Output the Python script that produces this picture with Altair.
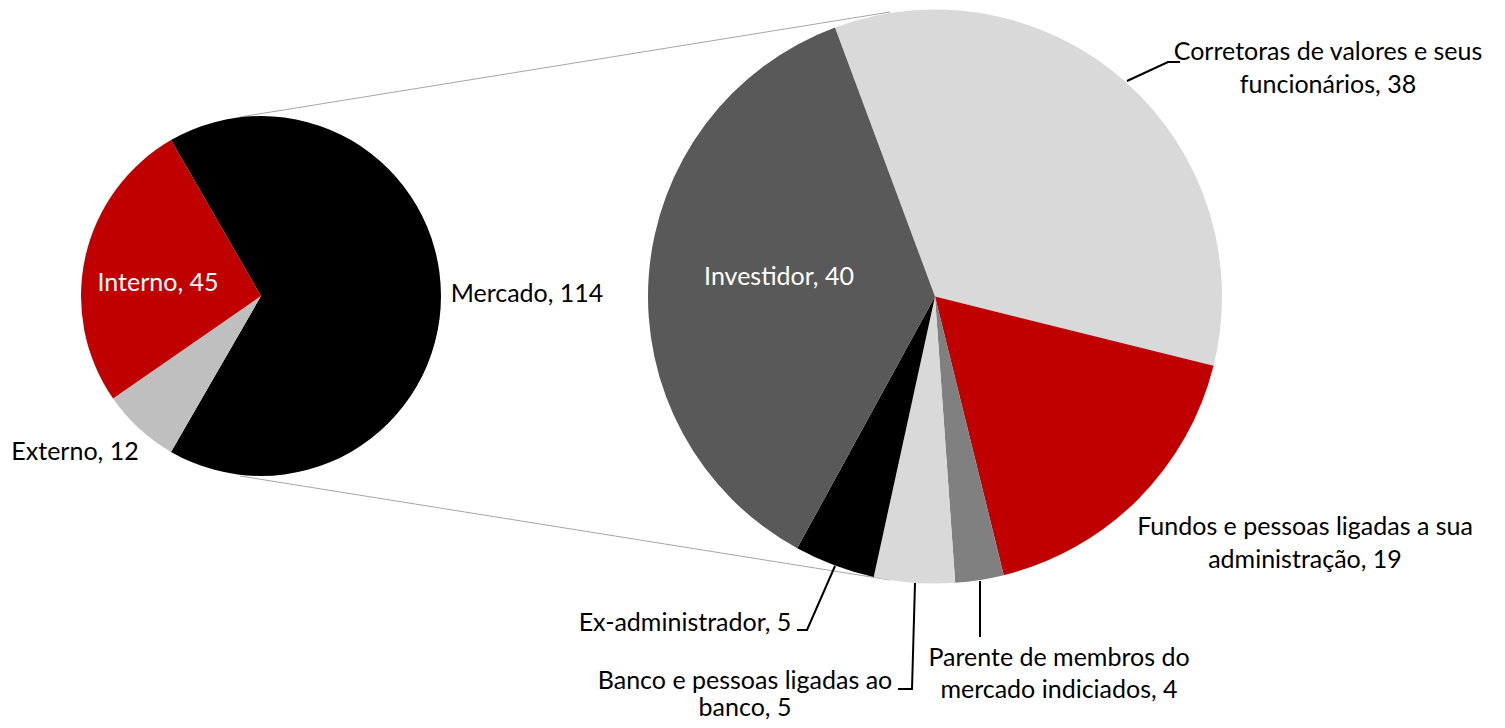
import math
import altair as alt
import pandas as pd

# ---- data ----
left_cats = ["Mercado", "Externo", "Interno"]
left_vals = [114, 12, 45]
left_colors = ["#000000", "#bfbfbf", "#c00000"]
left_names = ["Mercado", "Externo", "Interno"]

right_cats = [
    "Corretoras de valores e seus funcionários",
    "Fundos e pessoas ligadas a sua administração",
    "Parente de membros do mercado indiciados",
    "Banco e pessoas ligadas ao banco",
    "Ex-administrador",
    "Investidor",
]
# values as printed in the labels
right_vals = [38, 19, 4, 5, 5, 40]
# slice sizes as drawn in the reference (the "Parente" slice spans ~9.8 deg, i.e. 3 units)
right_slice_vals = [38, 19, 3, 5, 5, 40]
right_colors = ["#d9d9d9", "#c00000", "#808080", "#d9d9d9", "#000000", "#595959"]
right_names = [
    "Corretoras de valores e seus\nfuncionários",
    "Fundos e pessoas ligadas a sua\nadministração",
    "Parente de membros do\nmercado indiciados",
    "Banco e pessoas ligadas ao\nbanco",
    "Ex-administrador",
    "Investidor",
]

# ---- layout ----
W, H = 1489, 712
FONT = "Lato"
FS = 25
xs = alt.Scale(domain=[8, 8 + W], range=[0, W], nice=False, zero=False)
ys = alt.Scale(domain=[8, 8 + H], range=[0, H], nice=False, zero=False)

LEFT = dict(cx=261, cy=296, r=180, start=-30)
RIGHT = dict(cx=935, cy=296.5, r=287, start=-20.4)

# (x centre, y centre of first line, colour, line height)
left_label_pos = [(527, 294, "black", 33), (75, 452, "black", 33), (158, 283, "white", 33)]
right_label_pos = [
    (1328, 52, "black", 33),
    (1305, 527, "black", 33),
    (1059, 658, "black", 32),
    (745, 681, "black", 27),
    (685, 623, "black", 33),
    (779, 277, "white", 33),
]

connectors = [((240, 117), (890, 12)), ((240, 476), (890, 580))]
leaders = [
    [(1127, 81), (1168, 62), (1180, 62)],
    [(835, 566), (807, 630), (797, 630)],
    [(915, 583), (912, 689), (898, 689)],
    [(980, 581), (980, 637)],
]


def pie(cats, vals, colors, lay):
    df = pd.DataFrame({"cat": cats, "v": vals, "i": list(range(len(cats)))})
    s = math.radians(lay["start"])
    return alt.Chart(df).mark_arc(radius=lay["r"]).encode(
        theta=alt.Theta("v:Q", stack=True, scale=alt.Scale(range=[s, s + 2 * math.pi])),
        color=alt.Color("cat:N", scale=alt.Scale(domain=cats, range=colors), legend=None),
        order=alt.Order("i:Q"),
        x=alt.value(lay["cx"] - 8),
        y=alt.value(lay["cy"] - 8),
    )


def labels(names, vals, pos):
    layers = []
    for n, v, (x, y, c, lh) in zip(names, vals, pos):
        df = pd.DataFrame([{"t": f"{n}, {v}", "x": x, "y": y}])
        layers.append(
            alt.Chart(df).mark_text(
                font=FONT, fontSize=FS, lineBreak="\n", lineHeight=lh,
                align="center", baseline="middle", color=c,
            ).encode(
                x=alt.X("x:Q", scale=xs, axis=None),
                y=alt.Y("y:Q", scale=ys, axis=None),
                text="t:N",
            )
        )
    return layers


def polylines(lines, color, width):
    rows = []
    for li, pts in enumerate(lines):
        for k, (x, y) in enumerate(pts):
            rows.append({"seg": li, "k": k, "x": x, "y": y})
    df = pd.DataFrame(rows)
    return alt.Chart(df).mark_line(color=color, strokeWidth=width).encode(
        x=alt.X("x:Q", scale=xs, axis=None),
        y=alt.Y("y:Q", scale=ys, axis=None),
        detail="seg:N",
        order="k:Q",
    )


conn = polylines([list(c) for c in connectors], "#a6a6a6", 1)
lead = polylines(leaders, "#000000", 2)

left_pie = pie(left_cats, left_vals, left_colors, LEFT)
right_pie = pie(right_cats, right_slice_vals, right_colors, RIGHT)

chart = alt.layer(
    conn, left_pie, right_pie, lead,
    *labels(left_names, left_vals, left_label_pos),
    *labels(right_names, right_vals, right_label_pos),
).resolve_scale(color="independent", theta="independent").properties(
    width=W, height=H, padding=0, autosize=alt.AutoSizeParams(type="none")
).configure_view(stroke=None)

chart.save("out.html", embed_options={"renderer": "svg", "actions": False})
